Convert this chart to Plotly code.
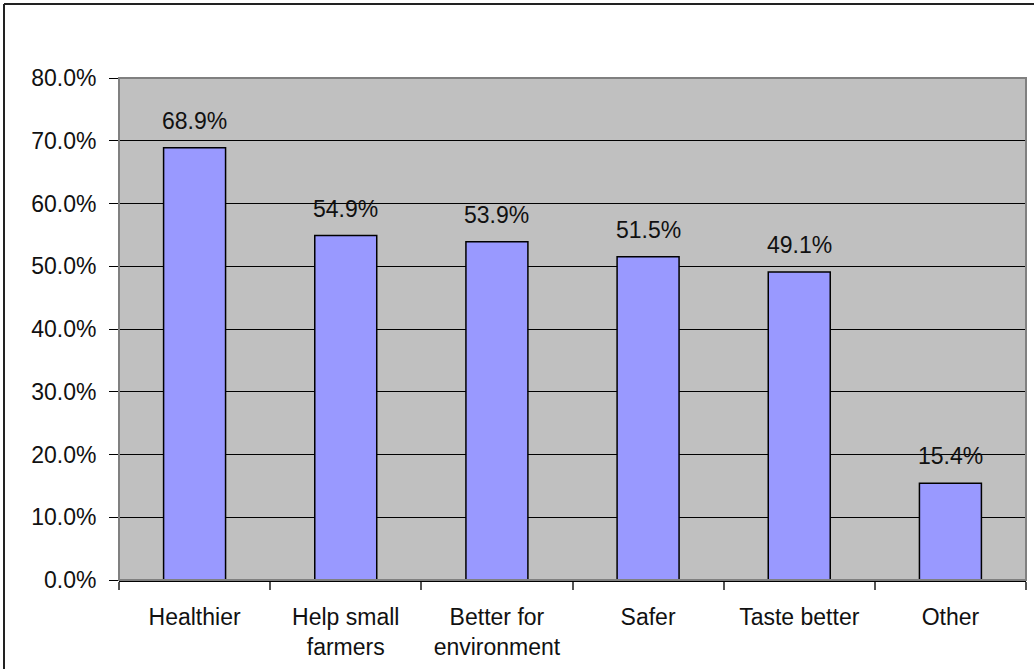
import plotly.graph_objects as go

categories = ["Healthier", "Help small<br>farmers", "Better for<br>environment", "Safer", "Taste better", "Other"]
values = [68.9, 54.9, 53.9, 51.5, 49.1, 15.4]
y_ticks = [0, 10, 20, 30, 40, 50, 60, 70, 80]

FONT = "Liberation Sans, Arial, sans-serif"
FS = 23

fig = go.Figure()
fig.add_trace(go.Bar(
    x=categories, y=values,
    marker=dict(color="#9999FF", line=dict(color="#000000", width=1.5)),
    width=0.41,
))

for c, v in zip(categories, values):
    fig.add_annotation(x=c, y=v, text=f"{v:.1f}%", showarrow=False,
                       yanchor="bottom", yshift=12,
                       font=dict(family=FONT, size=FS, color="#111111"))

W, H = 1034, 669
L, T = 119, 78
R = W - 1026
B = H - 580
pw, ph = W - L - R, H - T - B

# outer frame: left and top edges (page coords x=4, y=4)
fx0 = (4 - L) / pw
fy1 = (580 - 4) / ph
fig.add_shape(type="line", xref="paper", yref="paper",
              x0=fx0, x1=fx0, y0=-(700 - 580) / ph, y1=fy1,
              line=dict(color="#222222", width=2), layer="above")
fig.add_shape(type="line", xref="paper", yref="paper",
              x0=fx0, x1=(1100 - L) / pw, y0=fy1, y1=fy1,
              line=dict(color="#222222", width=2), layer="above")
# plot area border
fig.add_shape(type="rect", xref="paper", yref="paper", x0=0, x1=1, y0=0, y1=1,
              line=dict(color="#808080", width=2), layer="above")

fig.update_layout(
    width=W, height=H,
    margin=dict(l=L, r=R, t=T, b=B),
    paper_bgcolor="white", plot_bgcolor="#C0C0C0",
    showlegend=False,
    font=dict(family=FONT, size=FS, color="#111111"),
    bargap=0.59,
)
fig.update_yaxes(range=[0, 80], tickvals=y_ticks,
                 ticktext=[f"{t:.1f}%" for t in y_ticks],
                 showgrid=True, gridcolor="#000000", gridwidth=1,
                 zeroline=False, showline=False,
                 ticks="outside", ticklen=9, tickcolor="#000000", tickwidth=1,
                 ticklabelstandoff=8,
                 tickfont=dict(family=FONT, size=FS, color="#111111"))
fig.update_xaxes(showgrid=False, showline=True, linecolor="#000000", linewidth=1.5,
                 ticks="outside", tickson="boundaries", ticklen=8,
                 tickcolor="#555555", tickwidth=1.5,
                 ticklabelstandoff=16,
                 tickfont=dict(family=FONT, size=FS, color="#111111"))

fig.write_html("out.html", config={"displayModeBar": False},
               post_script="document.body.style.margin='0';document.body.style.overflow='hidden';")
